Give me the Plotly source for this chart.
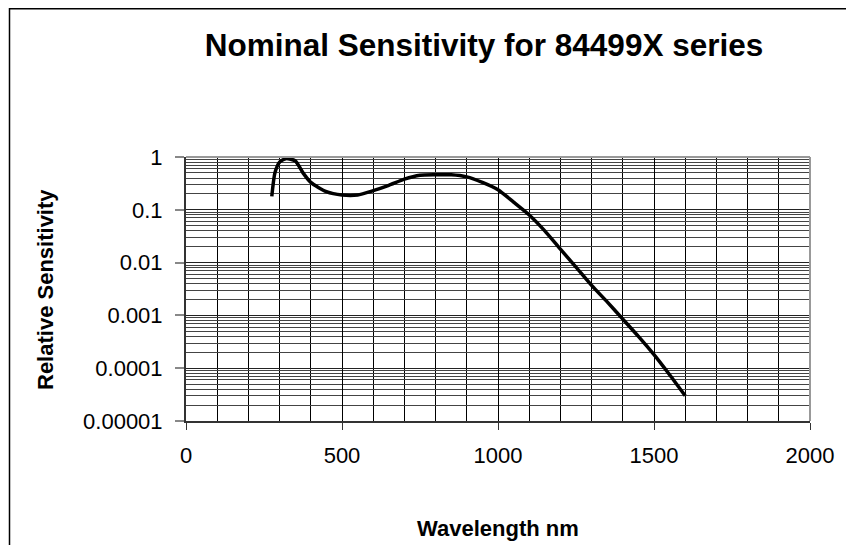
import plotly.graph_objects as go

# Data
wavelength_nm = [275, 285, 300, 320, 350, 375, 400, 450, 500, 550, 600, 650, 700,
                 750, 800, 850, 900, 950, 1000, 1050, 1100, 1150, 1200, 1250, 1300,
                 1350, 1400, 1450, 1500, 1550, 1600]
relative_sensitivity = [0.18, 0.5, 0.8, 0.93, 0.85, 0.5, 0.33, 0.22, 0.19, 0.19, 0.23,
                        0.29, 0.38, 0.45, 0.46, 0.46, 0.42, 0.33, 0.24, 0.14, 0.08,
                        0.04, 0.018, 0.0082, 0.0037, 0.0018, 0.00085, 0.0004, 0.00018,
                        0.000075, 0.00003]

x_ticks = [0, 500, 1000, 1500, 2000]
y_ticks = [1, 0.1, 0.01, 0.001, 0.0001, 0.00001]
y_tick_labels = ["1", "0.1", "0.01", "0.001", "0.0001", "0.00001"]

# figure is placed by the page with an 8px body margin
W, H = 846, 537
L, T = 178, 149
pw, ph = 624, 264
R, B = W - L - pw, H - T - ph

def px_to_paper_x(px):
    return (px - L) / pw

def px_to_paper_y(py):
    return (T + ph - py) / ph

FONT = "Liberation Sans, Arial, sans-serif"

fig = go.Figure()
fig.add_trace(go.Scatter(
    x=wavelength_nm, y=relative_sensitivity, mode="lines",
    line=dict(color="black", width=3.5, shape="spline", smoothing=0.6),
    showlegend=False, hoverinfo="x+y",
))

fig.update_layout(
    width=W, height=H,
    margin=dict(l=L, r=R, t=T, b=B, pad=0),
    paper_bgcolor="white", plot_bgcolor="white",
    font=dict(family=FONT, color="black", size=22),
    title=dict(text="<b>Nominal Sensitivity for 84499X series</b>",
               x=476 / W, xref="container", xanchor="center",
               y=1 - 37 / H, yref="container", yanchor="middle",
               font=dict(family=FONT, size=31.5, color="black")),
    xaxis=dict(
        range=[0, 2000], tickvals=x_ticks, ticktext=[str(v) for v in x_ticks],
        ticks="outside", ticklen=7, tickcolor="#333", tickwidth=1,
        showline=True, linecolor="#333", linewidth=2,
        showgrid=True, gridcolor="black", gridwidth=1,
        minor=dict(dtick=100, showgrid=True, gridcolor="black", gridwidth=1, ticks=""),
        zeroline=False, ticklabelstandoff=7,
        tickfont=dict(size=22, family=FONT),
    ),
    yaxis=dict(
        type="log", range=[-5, 0], tickvals=y_ticks, ticktext=y_tick_labels,
        ticks="outside", ticklen=9, tickcolor="#888", tickwidth=2,
        showline=True, linecolor="#333", linewidth=2,
        showgrid=True, gridcolor="#222", gridwidth=1,
        minor=dict(dtick="D1", showgrid=True, gridcolor="#444", gridwidth=1, ticks=""),
        zeroline=False, ticklabelstandoff=8,
        tickfont=dict(size=22, family=FONT),
    ),
    annotations=[
        dict(text="<b>Wavelength nm</b>", xref="paper", yref="paper",
             x=0.5, y=px_to_paper_y(520), xanchor="center", yanchor="middle",
             showarrow=False, font=dict(size=22, family=FONT, color="black")),
        dict(text="<b>Relative Sensitivity</b>", xref="paper", yref="paper",
             x=px_to_paper_x(37), y=px_to_paper_y(282), xanchor="center", yanchor="middle",
             textangle=-90, showarrow=False, font=dict(size=22, family=FONT, color="black")),
    ],
    shapes=[
        # top and right plot borders (gray)
        dict(type="line", xref="paper", yref="paper", x0=0, x1=1, y0=1, y1=1,
             line=dict(color="#999", width=2)),
        dict(type="line", xref="paper", yref="paper", x0=1, x1=1, y0=0, y1=1,
             line=dict(color="#999", width=2)),
        # outer chart frame
        dict(type="rect", xref="paper", yref="paper",
             x0=px_to_paper_x(1.5), x1=px_to_paper_x(880),
             y0=px_to_paper_y(580), y1=px_to_paper_y(0.8),
             line=dict(color="black", width=1.5), fillcolor="rgba(0,0,0,0)", layer="above"),
    ],
)

fig.write_html("out.html")
